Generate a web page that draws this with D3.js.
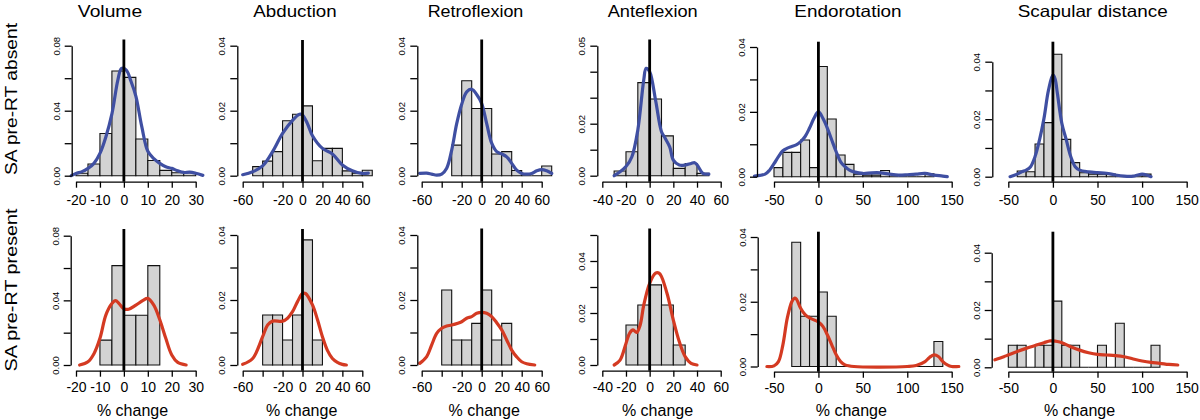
<!DOCTYPE html>
<html><head><meta charset="utf-8">
<script src="https://cdn.jsdelivr.net/npm/d3@7"></script>
<style>
body{margin:0;background:#fff}
svg{display:block}
text{font-family:"Liberation Sans",Arial,Helvetica,sans-serif;fill:#000}
</style>
</head><body>
<svg id="chart" width="1200" height="420"></svg>
<script>
// ---------------- DATA ----------------
const variables = ["Volume", "Abduction", "Retroflexion", "Anteflexion", "Endorotation", "Scapular distance"];
const groups = ["SA pre-RT absent", "SA pre-RT present"];
const xLabel = "% change";

const binWidth = [5, 10, 10, 10, 10, 10];
const binStartAbsent = [-20, -50, -30, -30, -50, -40];
const binStartPresent = [-10, -40, -40, -20, -30, -50];

const densityAbsent = [
  [0.0015, 0.0072, 0.026, 0.0644, 0.0605, 0.0226, 0.0094, 0.0033, 0.0018, 0.0018],
  [0.0028, 0.0045, 0.0074, 0.0169, 0.0189, 0.0215, 0.0046, 0.0084, 0.0084, 0.0015, 0.0008, 0.0017],
  [0.0094, 0.0292, 0.0207, 0.0207, 0.0067, 0.0074, 0.0016, 0, 0, 0.003],
  [0.0018, 0.0092, 0.0358, 0.0295, 0.0153, 0.0028, 0.0047, 0.0009],
  [0.0028, 0.0075, 0.0075, 0.0113, 0.0028, 0.034, 0.0178, 0.0067, 0.0038, 0.0008, 0.0005, 0.0005, 0.0019, 0, 0, 0, 0, 0.0009],
  [0.002, 0.0017, 0.0114, 0.0188, 0.0426, 0.013, 0.0049, 0.0014, 0.0009, 0.0009, 0.0009, 0, 0, 0, 0.0009]
];
const densityPresent = [
  [0.0154, 0.0615, 0.0308, 0.0308, 0.0615],
  [0.0154, 0.0154, 0.0077, 0.0154, 0.0385, 0.0077],
  [0.0231, 0.0077, 0.0077, 0.0128, 0.0231, 0.0077, 0.0128],
  [0.0154, 0.0231, 0.0308, 0.0231, 0.0077],
  [0.0384, 0.0155, 0.0155, 0.023, 0.0155, 0, 0, 0, 0, 0, 0, 0, 0, 0, 0, 0, 0.0077],
  [0.0077, 0.0077, 0, 0.0077, 0.0077, 0.0231, 0.0077, 0.0077, 0, 0, 0.0077, 0, 0.0154, 0, 0, 0, 0.0077]
];

const curveAbsent = [
  [[-22,0],[-20,0.0014],[-17.5,0.0025],[-15,0.0045],[-12.5,0.0076],[-10,0.0137],[-7.5,0.024],[-5,0.038],[-2.5,0.059],[-1,0.066],[1,0.065],[3,0.058],[5,0.049],[7.5,0.03],[10,0.015],[12.5,0.0105],[15,0.0076],[17.5,0.0055],[20,0.0045],[22.5,0.003],[25,0.002],[27.5,0.0022],[30,0.0015],[33,0.0002]],
  [[-60,0.0003],[-50,0.0012],[-40,0.003],[-30,0.0074],[-20,0.013],[-10,0.017],[-3,0.0189],[0,0.0187],[5,0.016],[10,0.0123],[20,0.0084],[30,0.0067],[40,0.0033],[50,0.0015],[60,0.0007],[66,0.0008]],
  [[-62,0.0007],[-55,0.0008],[-50,0.0005],[-45,0.0002],[-40,0.0005],[-35,0.0023],[-30,0.0079],[-25,0.016],[-20,0.022],[-15,0.0258],[-10,0.0266],[-5,0.025],[0,0.0222],[5,0.016],[10,0.01],[15,0.0074],[20,0.0067],[25,0.0058],[30,0.0038],[35,0.0017],[40,0.0007],[45,0.0005],[50,0.0007],[55,0.0015],[60,0.0019],[65,0.0015],[70,0.0007]],
  [[-30,0],[-25,0.0015],[-20,0.0035],[-15,0.0073],[-10,0.0176],[-5,0.0368],[-3,0.0413],[0,0.04],[5,0.029],[10,0.0169],[13,0.0145],[17,0.011],[20,0.006],[25,0.0041],[30,0.0041],[35,0.0047],[38,0.005],[40,0.0042],[45,0.0009],[50,0.0006]],
  [[-72,0.0002],[-60,0.0008],[-55,0.002],[-50,0.004],[-45,0.0062],[-40,0.008],[-35,0.0088],[-30,0.0093],[-25,0.0098],[-20,0.0108],[-15,0.0124],[-10,0.015],[-5,0.018],[0,0.0201],[5,0.018],[10,0.015],[15,0.0113],[20,0.0077],[25,0.0046],[30,0.0031],[35,0.002],[40,0.0015],[50,0.001],[60,0.0012],[70,0.0012],[80,0.0008],[90,0.0005],[100,0.0006],[110,0.0008],[120,0.001],[130,0.0005],[140,0.0002],[145,0]],
  [[-48,0],[-40,0.0009],[-35,0.0017],[-30,0.0023],[-25,0.0035],[-20,0.007],[-15,0.0128],[-10,0.0203],[-5,0.03],[0,0.0354],[2.5,0.034],[5,0.029],[10,0.0186],[15,0.0128],[20,0.007],[25,0.0035],[30,0.0023],[40,0.0017],[50,0.0014],[60,0.0012],[70,0.0006],[80,0.0002],[90,0.0002],[95,0.0006],[100,0.0009],[105,0.0006],[110,0]]
];
const curvePresent = [
  [[-18.5,0],[-15,0.002],[-12.5,0.007],[-10,0.0165],[-7.5,0.031],[-5,0.038],[-3.5,0.0398],[-2,0.038],[0,0.0348],[2,0.0345],[5,0.037],[8,0.04],[10,0.0412],[12.5,0.037],[15,0.028],[17.5,0.0165],[20,0.0062],[22.5,0.0016],[26,0]],
  [[-60,0.0002],[-50,0.002],[-40,0.0087],[-35,0.0123],[-30,0.0135],[-20,0.0135],[-15,0.0144],[-10,0.0164],[-5,0.0195],[0,0.022],[3,0.022],[10,0.0185],[15,0.014],[20,0.0087],[25,0.0045],[30,0.002],[35,0.0008],[40,0.0002],[44,0]],
  [[-62,0.0005],[-55,0.0026],[-50,0.0062],[-45,0.0097],[-40,0.0113],[-35,0.012],[-30,0.0123],[-20,0.0133],[-15,0.0144],[-10,0.0149],[-5,0.0159],[0,0.0162],[5,0.0159],[10,0.0149],[15,0.013],[20,0.0108],[25,0.0077],[30,0.0046],[35,0.0025],[40,0.001],[45,0.0004],[53,0]],
  [[-30,0],[-25,0.0019],[-20,0.0083],[-17,0.0122],[-14,0.0135],[-11,0.0125],[-8,0.0154],[-5,0.023],[0,0.0314],[5,0.0353],[8,0.0353],[10,0.034],[15,0.027],[20,0.0173],[25,0.009],[30,0.0032],[35,0.0006],[40,0]],
  [[-58,0],[-50,0.0002],[-45,0.0015],[-40,0.0067],[-35,0.015],[-30,0.02],[-27,0.0211],[-25,0.0209],[-20,0.018],[-15,0.016],[-10,0.015],[-5,0.0144],[0,0.0137],[5,0.0124],[10,0.0098],[15,0.0067],[20,0.0036],[25,0.0015],[30,0.0005],[40,0],[100,0],[110,0.0003],[120,0.0015],[125,0.0028],[130,0.0036],[135,0.0031],[140,0.0015],[145,0.0005],[150,0],[158,0]],
  [[-65,0.0026],[-55,0.0037],[-50,0.0043],[-40,0.0055],[-30,0.0066],[-20,0.0076],[-10,0.0086],[-3,0.0092],[0,0.0092],[5,0.009],[10,0.0086],[20,0.0072],[30,0.006],[40,0.0051],[50,0.0045],[60,0.0043],[70,0.0041],[80,0.0037],[90,0.0029],[100,0.0022],[110,0.0017],[120,0.0014],[130,0.001],[140,0.0008]]
];

const xTickValues = [
  [-20, -10, 0, 10, 20, 30],
  [-60, -40, -20, 0, 20, 40, 60],
  [-60, -40, -20, 0, 20, 40, 60],
  [-40, -20, 0, 20, 40, 60],
  [-50, 0, 50, 100, 150],
  [-50, 0, 50, 100, 150]
];
const xTickLabels = [
  ["-20", "-10", "0", "10", "20", "30"],
  ["-60", "", "-20", "0", "20", "40", "60"],
  ["-60", "", "-20", "0", "20", "40", "60"],
  ["-40", "-20", "0", "20", "40", "60"],
  ["-50", "0", "50", "100", "150"],
  ["-50", "0", "50", "100", "150"]
];
const yTickValues = [
  [0, 0.02, 0.04, 0.06, 0.08],
  [0, 0.01, 0.02, 0.03, 0.04],
  [0, 0.01, 0.02, 0.03, 0.04],
  [0, 0.01, 0.02, 0.03, 0.04, 0.05],
  [0, 0.01, 0.02, 0.03, 0.04],
  [0, 0.01, 0.02, 0.03, 0.04]
];
const yTickLabelsAbsent = [
  ["0.00", "", "0.04", "", "0.08"],
  ["0.00", "", "0.02", "", "0.04"],
  ["0.00", "", "0.02", "", "0.04"],
  ["0.00", "", "0.02", "", "", "0.05"],
  ["0.00", "", "0.02", "", "0.04"],
  ["0.00", "", "0.02", "", "0.04"]
];
const yTickLabelsPresent = [
  ["0.00", "", "0.04", "", "0.08"],
  ["0.00", "", "0.02", "", "0.04"],
  ["0.00", "", "0.02", "", "0.04"],
  ["0.00", "", "0.02", "", "0.04", ""],
  ["0.00", "", "0.02", "", "0.04"],
  ["0.00", "", "0.02", "", "0.04"]
];

// ---------------- LAYOUT (pixels) ----------------
const xRangePx = [[76, 195.7], [242.7, 362.3], [421.7, 541.7], [602.3, 720.7], [774, 951.7], [1008.3, 1186.7]];
const titleX = [110, 295, 475.5, 652.7, 848, 1092.7];
const titleW = [64.3, 83.3, 95.7, 90, 107.3, 150];
const xlabX = [132.5, 301.7, 484.2, 657.5, 851.3, 1079.5];
const rowsLayout = [
  {
    yAxisX: [71.7, 237.3, 417.3, 597.3, 757, 992.3],
    y0: [175.7, 175.7, 175.7, 175.7, 176.7, 176.7],
    yTop: [45.7, 45.7, 45.7, 45.7, 47, 61.7],
    xAxisY: [181.7, 181.7, 181.7, 181.7, 181.7, 181.7],
    zeroTop: [39.5, 40, 39.5, 39.5, 41.7, 41.7],
    labelY: 99, labelW: 152, tickLabelDy: 23.3
  },
  {
    yAxisX: [70.7, 237.3, 417.3, 597.3, 757.7, 991.7],
    y0: [365, 365, 365, 365, 366.5, 367.3],
    yTop: [235.7, 235, 235, 235, 237, 252.7],
    xAxisY: [370.7, 370.7, 370.7, 370.7, 371.7, 371.7],
    zeroTop: [229, 229, 228.5, 228.5, 231.7, 231.7],
    labelY: 290, labelW: 163, tickLabelDy: 21.6
  }
];
const blue = "#3f4fa2", red = "#d43a22";
const FONT = '"Liberation Sans",Arial,Helvetica,sans-serif';

// ---------------- DRAW ----------------
const svg = d3.select("#chart");

variables.forEach((v, c) => {
  svg.append("text")
    .attr("x", titleX[c]).attr("y", 17)
    .attr("text-anchor", "middle")
    .attr("font-size", 16.5)
    .attr("textLength", titleW[c]).attr("lengthAdjust", "spacingAndGlyphs")
    .text(v);
  svg.append("text")
    .attr("x", xlabX[c]).attr("y", 416)
    .attr("text-anchor", "middle")
    .attr("font-size", 16)
    .text(xLabel);
});

groups.forEach((gname, r) => {
  const L = rowsLayout[r];
  svg.append("text")
    .attr("transform", `translate(17,${L.labelY}) rotate(-90)`)
    .attr("text-anchor", "middle")
    .attr("font-size", 17)
    .attr("textLength", L.labelW).attr("lengthAdjust", "spacingAndGlyphs")
    .text(gname);

  const dens = r === 0 ? densityAbsent : densityPresent;
  const starts = r === 0 ? binStartAbsent : binStartPresent;
  const curves = r === 0 ? curveAbsent : curvePresent;
  const yLabels = r === 0 ? yTickLabelsAbsent : yTickLabelsPresent;
  const col = r === 0 ? blue : red;

  variables.forEach((v, c) => {
    const xt = xTickValues[c], yt = yTickValues[c];
    const x = d3.scaleLinear().domain([xt[0], xt[xt.length - 1]]).range(xRangePx[c]);
    const y = d3.scaleLinear().domain([0, yt[yt.length - 1]]).range([L.y0[c], L.yTop[c]]);
    const g = svg.append("g");

    // histogram bars
    g.selectAll("path.bar").data(dens[c]).join("path")
      .attr("class", "bar")
      .attr("d", (d, i) => {
        const x0 = x(starts[c] + i * binWidth[c]), x1 = x(starts[c] + (i + 1) * binWidth[c]);
        return `M${x0},${y(0)}V${y(d)}H${x1}V${y(0)}Z`;
      })
      .attr("fill", "#d3d3d3").attr("stroke", "#111").attr("stroke-width", 1.1);

    // density curve
    const line = d3.line().x(d => x(d[0])).y(d => y(d[1])).curve(d3.curveCatmullRom.alpha(0.5));
    g.append("path").attr("d", line(curves[c]))
      .attr("fill", "none").attr("stroke", col).attr("stroke-width", 3.2)
      .attr("stroke-linejoin", "round").attr("stroke-linecap", "round");

    // zero line
    g.append("line")
      .attr("x1", x(0)).attr("x2", x(0))
      .attr("y1", L.zeroTop[c]).attr("y2", L.xAxisY[c])
      .attr("stroke", "#000").attr("stroke-width", 2.8);

    // x axis
    const xa = g.append("g").attr("transform", `translate(0,${L.xAxisY[c]})`)
      .call(d3.axisBottom(x).tickValues(xt).tickFormat((d, i) => xTickLabels[c][i]).tickSizeInner(6).tickSizeOuter(0));
    xa.select(".domain").attr("stroke", "#000").attr("stroke-width", 1.3);
    xa.selectAll(".tick line").attr("stroke", "#000").attr("stroke-width", 1.3);
    xa.selectAll(".tick text").attr("y", L.tickLabelDy).attr("dy", 0)
      .style("font-family", FONT).style("font-size", "14px").attr("fill", "#000");

    // y axis
    const ya = g.append("g").attr("transform", `translate(${L.yAxisX[c]},0)`)
      .call(d3.axisLeft(y).tickValues(yt).tickFormat((d, i) => yLabels[c][i]).tickSizeInner(7).tickSizeOuter(0));
    ya.select(".domain").attr("stroke", "#000").attr("stroke-width", 1.3);
    ya.selectAll(".tick line").attr("stroke", "#000").attr("stroke-width", 1.3);
    ya.selectAll(".tick text")
      .attr("transform", "rotate(-90)").attr("x", 0).attr("y", -12).attr("dy", 0)
      .attr("text-anchor", "middle")
      .style("font-family", FONT).style("font-size", "9.5px").attr("fill", "#000");
  });
});
</script>
</body></html>
